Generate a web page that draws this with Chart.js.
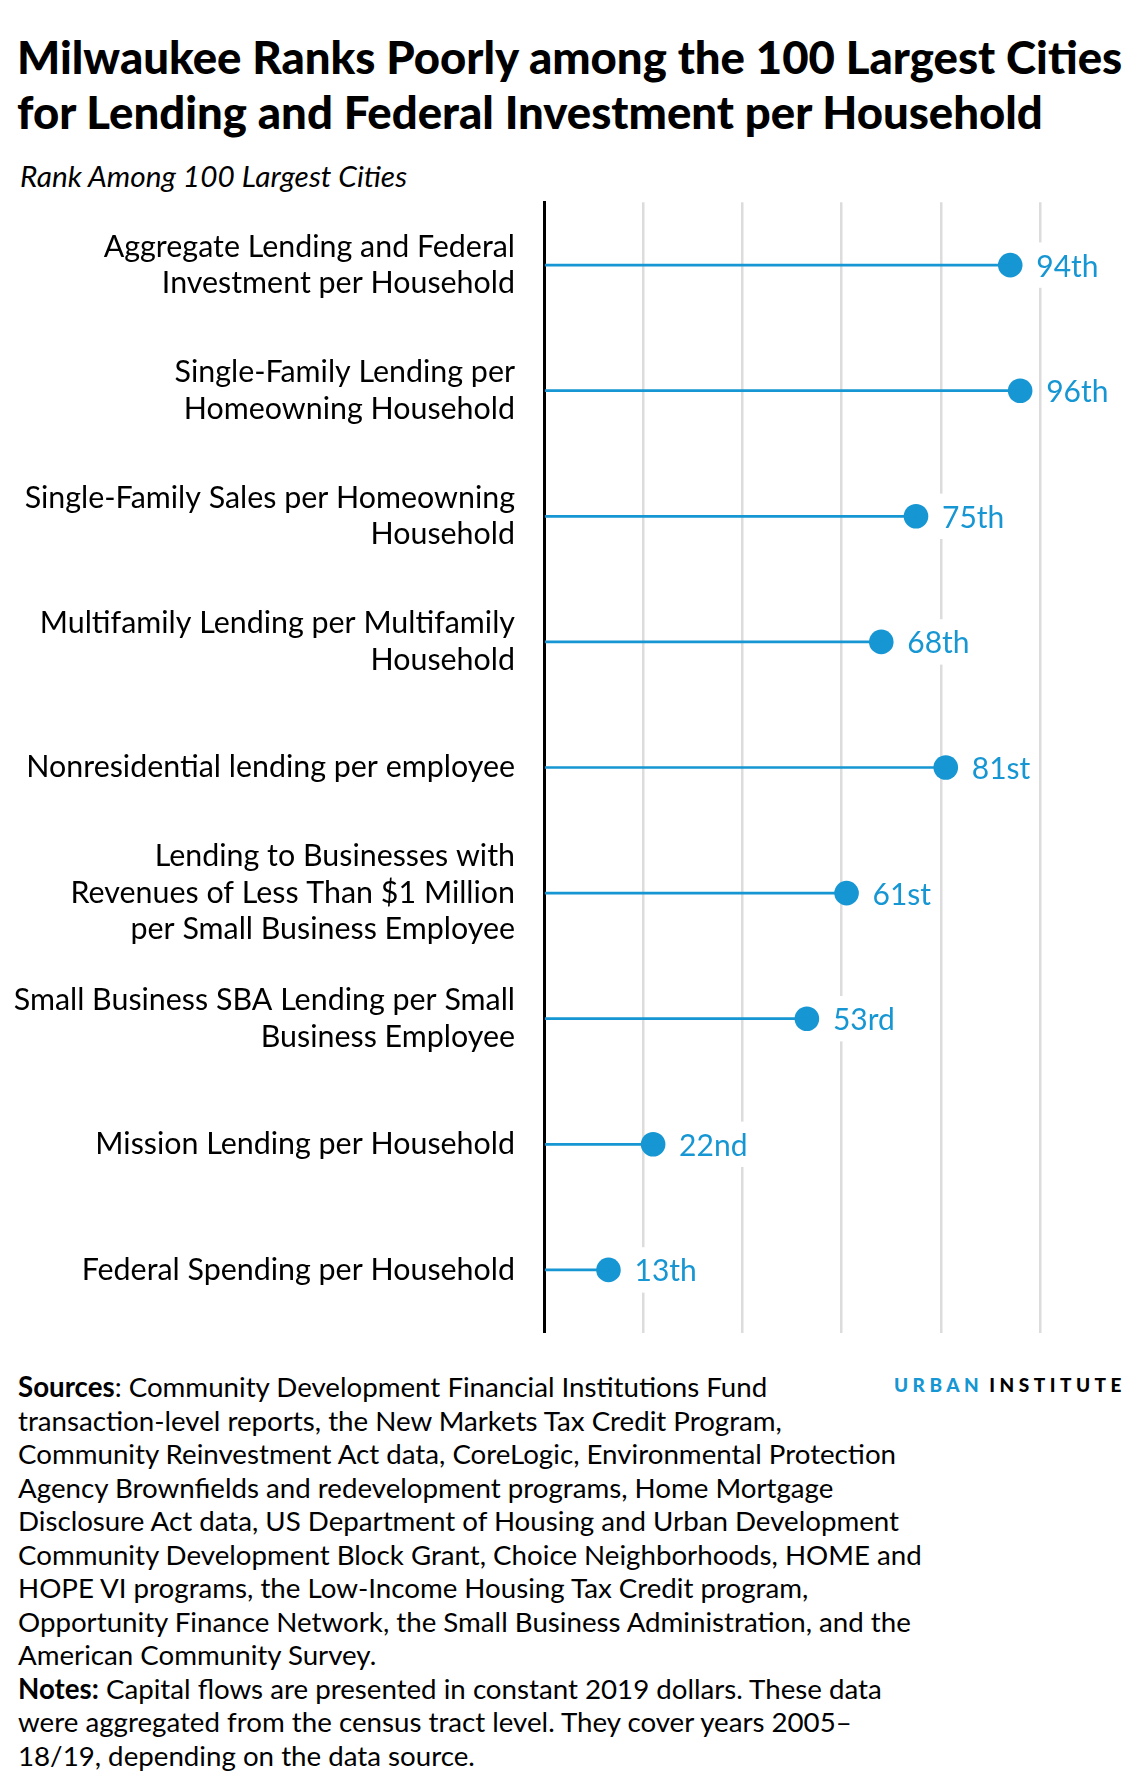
<!DOCTYPE html>
<html>
<head>
<meta charset="utf-8">
<script src="https://cdn.jsdelivr.net/npm/chart.js@4.4.1/dist/chart.umd.min.js"></script>
<style>
  html, body { margin: 0; padding: 0; background: #fff; }
  body { width: 1140px; height: 1787px; position: relative; font-family: Lato, "Noto Sans", sans-serif; color: #000; }
  #title { position: absolute; left: 17px; top: 29px; font-size: 45.5px; line-height: 55px; font-weight: 900; white-space: nowrap; }
  #subtitle { position: absolute; left: 20px; top: 160px; font-size: 29.8px; line-height: 32px; font-style: italic; white-space: nowrap; }
  #chartbox { position: absolute; left: 0; top: 190px; width: 1140px; height: 1155px; }
  #notes { position: absolute; left: 18px; top: 1370px; font-size: 27.7px; line-height: 33.5px; white-space: nowrap; }
  #logo { position: absolute; right: 14px; top: 1375px; font-size: 19px; line-height: 19px; font-weight: 900; letter-spacing: 4.5px; white-space: nowrap; }
  #logo .u { color: #1696d2; margin-right: 6px; }
</style>
</head>
<body>
<div id="title">Milwaukee Ranks Poorly among the 100 Largest Cities<br>for Lending and Federal Investment per Household</div>
<div id="subtitle">Rank Among 100 Largest Cities</div>
<div id="chartbox"><canvas id="c"></canvas></div>
<div id="notes"><b>Sources</b>: Community Development Financial Institutions Fund<br>transaction-level reports, the New Markets Tax Credit Program,<br>Community Reinvestment Act data, CoreLogic, Environmental Protection<br>Agency Brownfields and redevelopment programs, Home Mortgage<br>Disclosure Act data, US Department of Housing and Urban Development<br>Community Development Block Grant, Choice Neighborhoods, HOME and<br>HOPE VI programs, the Low-Income Housing Tax Credit program,<br>Opportunity Finance Network, the Small Business Administration, and the<br>American Community Survey.<br><b>Notes:</b> Capital flows are presented in constant 2019 dollars. These data<br>were aggregated from the census tract level. They cover years 2005–<br>18/19, depending on the data source.</div>
<div id="logo"><span class="u">URBAN</span>INSTITUTE</div>
<script>
const categories = [
  ['Aggregate Lending and Federal', 'Investment per Household'],
  ['Single-Family Lending per', 'Homeowning Household'],
  ['Single-Family Sales per Homeowning', 'Household'],
  ['Multifamily Lending per Multifamily', 'Household'],
  'Nonresidential lending per employee',
  ['Lending to Businesses with', 'Revenues of Less Than $1 Million', 'per Small Business Employee'],
  ['Small Business SBA Lending per Small', 'Business Employee'],
  'Mission Lending per Household',
  'Federal Spending per Household'
];
const ranks = [94, 96, 75, 68, 81, 61, 53, 22, 13];
const rankLabels = ['94th', '96th', '75th', '68th', '81st', '61st', '53rd', '22nd', '13th'];
const xTicksMin = 0, xTicksMax = 100, xTickStep = 20;

const BLUE = '#1696d2';

const valueLabelPlugin = {
  id: 'valueLabels',
  afterDatasetsDraw(chart) {
    const meta = chart.getDatasetMeta(1);
    const ctx = chart.ctx;
    ctx.save();
    ctx.font = '30px Lato';
    ctx.textAlign = 'left';
    ctx.textBaseline = 'alphabetic';
    meta.data.forEach((pt, i) => {
      const txt = rankLabels[i];
      const x = pt.x + 26;
      const y = pt.y;
      const w = ctx.measureText(txt).width;
      ctx.fillStyle = '#fff';
      ctx.fillRect(x - 4, y - 22.7, w + 8, 45.4);
      ctx.fillStyle = BLUE;
      ctx.fillText(txt, x, y + 11.5);
    });
    ctx.restore();
  }
};

new Chart(document.getElementById('c'), {
  type: 'bar',
  data: {
    labels: categories,
    datasets: [
      {
        type: 'bar',
        indexAxis: 'y',
        data: ranks,
        backgroundColor: BLUE,
        barThickness: 2,
        borderWidth: 0
      },
      {
        type: 'line',
        indexAxis: 'y',
        data: ranks,
        showLine: false,
        pointRadius: 12.3,
        pointHoverRadius: 12.3,
        pointBackgroundColor: BLUE,
        pointBorderWidth: 0,
        borderColor: BLUE
      }
    ]
  },
  options: {
    indexAxis: 'y',
    responsive: true,
    maintainAspectRatio: false,
    animation: false,
    layout: { padding: { top: 12, bottom: 12, left: 0, right: 100 } },
    plugins: { legend: { display: false }, tooltip: { enabled: false } },
    scales: {
      x: {
        type: 'linear',
        min: xTicksMin,
        max: xTicksMax,
        ticks: { display: false, stepSize: xTickStep },
        grid: {
          drawTicks: false,
          lineWidth: 2.5,
          color: (c) => (c.tick && c.tick.value === 0) ? 'rgba(0,0,0,0)' : '#dcdcdc'
        },
        border: { display: false }
      },
      y: {
        type: 'category',
        afterFit: (s) => { s.width = 544; s.paddingTop = 0; s.paddingBottom = 0; },
        ticks: {
          color: '#000',
          padding: 29,
          font: { family: 'Lato', size: 30.4, lineHeight: 1.2 }
        },
        grid: { display: false, drawTicks: false },
        border: { display: true, color: '#000', width: 3 }
      }
    }
  },
  plugins: [valueLabelPlugin]
});
</script>
</body>
</html>
